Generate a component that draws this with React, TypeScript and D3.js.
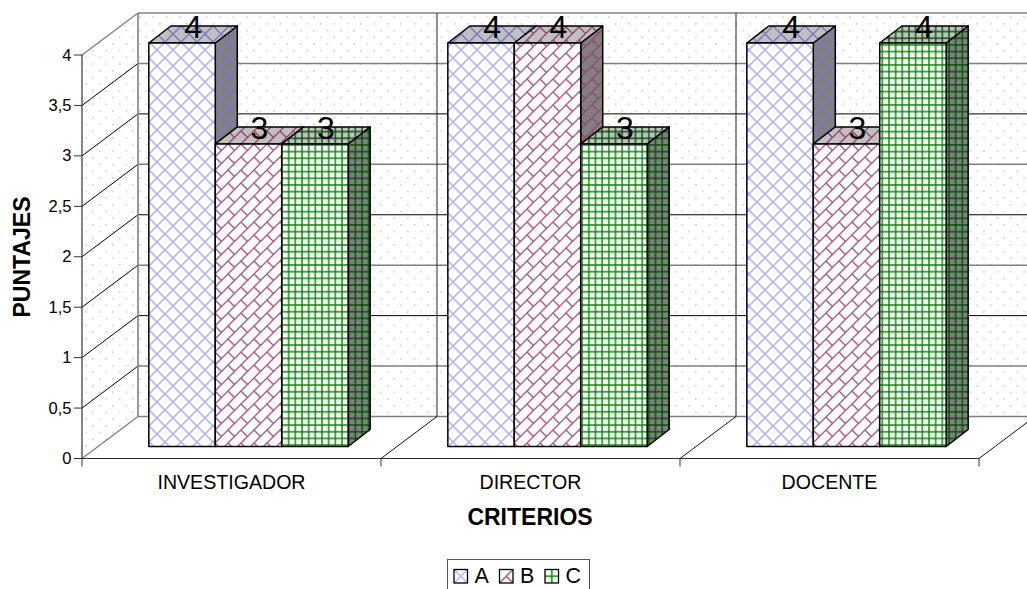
import React from "react";
import * as d3 from "d3";

const categories = ["INVESTIGADOR", "DIRECTOR", "DOCENTE"];
const seriesNames = ["A", "B", "C"];
const valuesA = [4, 4, 4];
const valuesB = [3, 4, 3];
const valuesC = [3, 3, 4];
const seriesValues = [valuesA, valuesB, valuesC];
const yTicks = [0, 0.5, 1, 1.5, 2, 2.5, 3, 3.5, 4];
const tickLabels = ["0", "0,5", "1", "1,5", "2", "2,5", "3", "3,5", "4"];

const W = 1027;
const H = 589;
const FONT = "'Liberation Sans', Arial, sans-serif";

// Oblique projection: the plot box recedes up and to the right.
const wallDx = 56;
const wallDy = 42;
const barNearDx = 17;
const barNearDy = 12;
const barDepthDx = 22;
const barDepthDy = 17;

const x0 = d3.scaleBand<string>().domain(categories).range([82, 979]);
const x1 = d3.scaleBand<string>().domain(seriesNames).range([0, x0.bandwidth()]).paddingOuter(0.75).paddingInner(0);
const y = d3.scaleLinear().domain([0, 4]).range([458.5, 55]);

const seriesStyles = [
  { pattern: "hatchA", stroke: "#000" },
  { pattern: "hatchB", stroke: "#000" },
  { pattern: "hatchC", stroke: "#000" },
];

function Patterns({ shade, suffix }: { shade: string | null; suffix: string }) {
  const base = shade ?? "#fff";
  const a = shade ? "#7a7ac8" : "#aeaeff";
  const b = shade ? "#96486e" : "#b05a85";
  const c = shade ? "#005000" : "#008800";
  return (
    <>
      <pattern id={"hatchA" + suffix} width={16} height={16} patternUnits="userSpaceOnUse" x={149} y={42}>
        <rect width={16} height={16} fill={base} />
        <path d="M-2,2 L2,-2 M0,16 L16,0 M14,18 L18,14 M-2,14 L2,18 M0,0 L16,16 M14,-2 L18,2" stroke={a} strokeWidth={1.5} />
      </pattern>
      <pattern id={"hatchB" + suffix} width={13} height={13} patternUnits="userSpaceOnUse" x={215} y={144}>
        <rect width={13} height={13} fill={base} />
        <path d="M0,13 L13,0 M-2,2 L2,-2 M11,15 L15,11 M0,0 L6.5,6.5" stroke={b} strokeWidth={1.4} />
      </pattern>
      <pattern id={"hatchC" + suffix} width={6.67} height={6.67} patternUnits="userSpaceOnUse" x={281} y={144}>
        <rect width={6.67} height={6.67} fill={base} />
        <path d="M1,0 V6.67 M0,1 H6.67" stroke={c} strokeWidth={1.4} fill="none" />
      </pattern>
    </>
  );
}

export default function App() {
  const baseY = y(0);
  const wallY = (v: number) => y(v) - wallDy;
  const wallLeft = x0.range()[0] + wallDx;
  const tickXs = [...categories.map((c) => x0(c)!), x0.range()[1]];
  const slantLine = d3.line();

  return (
    <svg
      width={W}
      height={H}
      viewBox={`0 0 ${W} ${H}`}
      style={{ position: "absolute", left: 0, top: 0, display: "block", background: "#fff" }}
      fontFamily={FONT}
    >
      <defs>
        <pattern id="wallDots" width={13.4} height={13.4} patternUnits="userSpaceOnUse" x={3} y={1}>
          <rect x={2} y={2} width={1.5} height={1.5} fill="#c4c4c4" />
          <rect x={8.7} y={8.7} width={1.5} height={1.5} fill="#c4c4c4" />
        </pattern>
        <Patterns shade={null} suffix="" />
        <Patterns shade="#c0c0c0" suffix="Top" />
        <Patterns shade="#808080" suffix="Side" />
      </defs>

      {/* Plot walls */}
      <path
        d={`M${wallLeft},${wallY(4)} H${W + 10} V${wallY(0)} H${wallLeft} Z`}
        fill="url(#wallDots)"
      />
      <path
        d={`M${x0.range()[0]},${y(4)} L${wallLeft},${wallY(4)} V${wallY(0)} L${x0.range()[0]},${y(0)} Z`}
        fill="url(#wallDots)"
      />

      {/* Gridlines on the back and side walls */}
      {yTicks.map((t, i) => {
        const isEdge = t === 0 || t === 4;
        return (
          <g key={t}>
            {t !== 0 && t !== 4 && (
              <path
                d={slantLine([
                  [x0.range()[0], y(t)],
                  [wallLeft, wallY(t)],
                ])!}
                stroke="#000"
                strokeWidth={1}
                fill="none"
              />
            )}
            <line
              x1={wallLeft}
              x2={W + 10}
              y1={wallY(t)}
              y2={wallY(t)}
              stroke={isEdge || i % 2 === 1 ? "#808080" : "#000"}
              strokeWidth={isEdge || i % 2 === 1 ? 1.5 : 1}
            />
          </g>
        );
      })}

      {/* Wall dividers between categories */}
      {tickXs.slice(1).map((tx) => (
        <line key={tx} x1={tx + wallDx} x2={tx + wallDx} y1={wallY(4)} y2={wallY(0)} stroke="#222" strokeWidth={1} />
      ))}
      <line x1={wallLeft} x2={wallLeft} y1={wallY(4)} y2={wallY(0)} stroke="#808080" strokeWidth={1.6} />
      <line x1={x0.range()[0]} x2={wallLeft} y1={y(4)} y2={wallY(4)} stroke="#808080" strokeWidth={1.4} />
      <line x1={x0.range()[0]} x2={wallLeft} y1={y(0)} y2={wallY(0)} stroke="#808080" strokeWidth={1.4} />

      {/* Floor rulings at each category boundary */}
      {tickXs.slice(1).map((tx) => (
        <line key={tx} x1={tx} x2={tx + wallDx} y1={baseY} y2={baseY - wallDy} stroke="#111" strokeWidth={1} />
      ))}

      {/* Axes */}
      <line x1={82} x2={82} y1={y(4)} y2={y(0)} stroke="#333" strokeWidth={1.2} />
      <line x1={82} x2={x0.range()[1]} y1={baseY} y2={baseY} stroke="#333" strokeWidth={1.2} />
      {yTicks.map((t, i) => (
        <g key={t}>
          <line x1={74} x2={82} y1={y(t)} y2={y(t)} stroke="#333" strokeWidth={1} />
          <text x={71.5} y={y(t) + 5.5} textAnchor="end" fontSize={16.5} fill="#000">
            {tickLabels[i]}
          </text>
        </g>
      ))}
      {tickXs.map((tx) => (
        <line key={tx} x1={tx} x2={tx} y1={baseY} y2={baseY + 8} stroke="#333" strokeWidth={1} />
      ))}
      {categories.map((c) => (
        <text key={c} x={x0(c)! + x0.bandwidth() / 2} y={489} textAnchor="middle" fontSize={19.6} fill="#000">
          {c}
        </text>
      ))}

      {/* Bars */}
      {categories.map((c, ci) =>
        seriesNames.map((s, si) => {
          const v = seriesValues[si][ci];
          const left = x0(c)! + x1(s)! + barNearDx;
          const right = left + x1.bandwidth();
          const top = y(v) - barNearDy;
          const bottom = baseY - barNearDy;
          const st = seriesStyles[si];
          return (
            <g key={c + s} stroke={st.stroke} strokeWidth={1.5} strokeLinejoin="round">
              <path
                d={`M${right},${top} L${right + barDepthDx},${top - barDepthDy} V${bottom - barDepthDy} L${right},${bottom} Z`}
                fill={`url(#${st.pattern}Side)`}
              />
              <path
                d={`M${left},${top} L${left + barDepthDx},${top - barDepthDy} H${right + barDepthDx} L${right},${top} Z`}
                fill={`url(#${st.pattern}Top)`}
              />
              <rect x={left} y={top} width={x1.bandwidth()} height={bottom - top} fill={`url(#${st.pattern})`} />
            </g>
          );
        })
      )}

      {/* Value labels sit on the bar tops */}
      {categories.map((c, ci) =>
        seriesNames.map((s, si) => {
          const v = seriesValues[si][ci];
          const cx = x0(c)! + x1(s)! + barNearDx + x1.bandwidth() / 2 + barDepthDx / 2;
          return (
            <text key={c + s} x={cx} y={y(v) - barNearDy - 5} textAnchor="middle" fontSize={32} fill="#000">
              {v}
            </text>
          );
        })
      )}

      {/* Axis titles */}
      <text x={530} y={525} textAnchor="middle" fontSize={23} fontWeight="bold">
        CRITERIOS
      </text>
      <text transform="translate(30,257) rotate(-90)" textAnchor="middle" fontSize={23} fontWeight="bold">
        PUNTAJES
      </text>

      {/* Legend */}
      <rect x={447.5} y={559.5} width={142} height={40} fill="#fff" stroke="#555" strokeWidth={1} />
      {seriesNames.map((s, i) => {
        const lx = 454 + i * 45.5;
        return (
          <g key={s}>
            <rect x={lx} y={569.5} width={13.5} height={13.5} fill={`url(#legend${s})`} stroke="#000" strokeWidth={1.3} />
            <pattern id={`legend${s}`} width={13.5} height={13.5} patternUnits="userSpaceOnUse" x={lx} y={569.5}>
              {s === "A" && <path d="M0,0 L13.5,13.5 M0,13.5 L13.5,0" stroke="#aeaeff" strokeWidth={1.5} />}
              {s === "B" && <path d="M0,13.5 L13.5,0 M6.75,6.75 L13.5,13.5" stroke="#a84a78" strokeWidth={1.5} />}
              {s === "C" && <path d="M6.75,0 V13.5 M0,6.75 H13.5" stroke="#008800" strokeWidth={1.5} />}
            </pattern>
            <text x={lx + 20.5} y={583} fontSize={21.5} fill="#000">
              {s}
            </text>
          </g>
        );
      })}
    </svg>
  );
}
